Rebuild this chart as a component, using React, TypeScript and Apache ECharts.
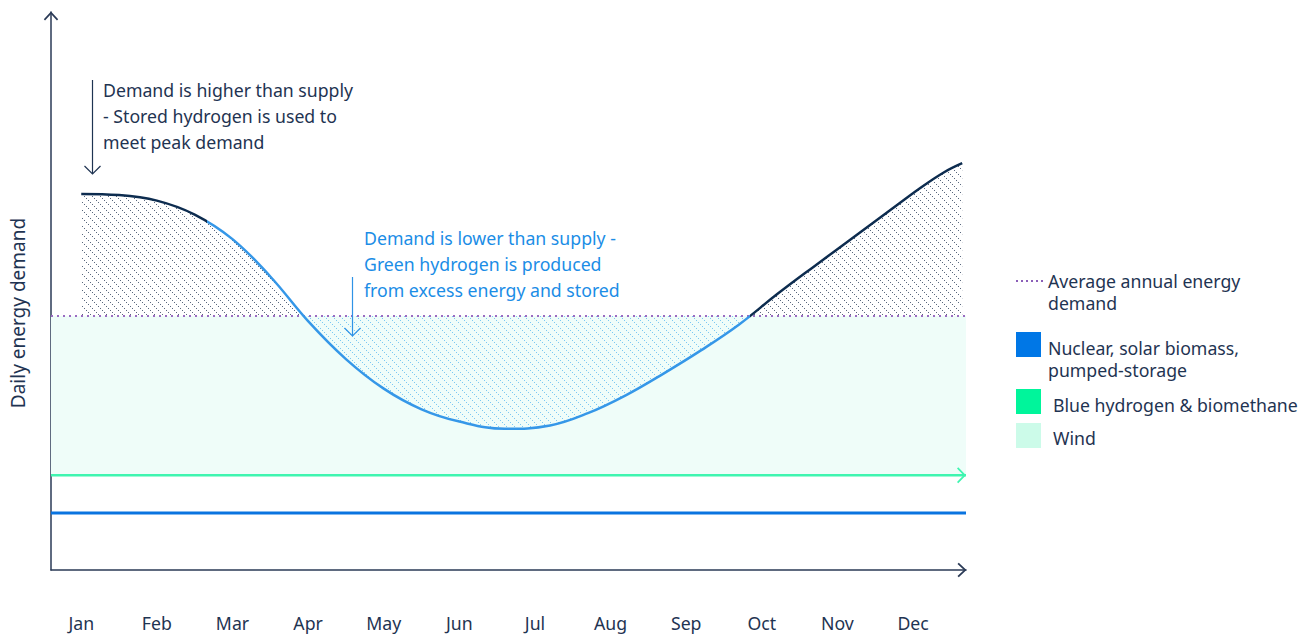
import React, { useEffect, useRef } from 'react';
import * as echarts from 'echarts';

const months = ['Jan', 'Feb', 'Mar', 'Apr', 'May', 'Jun', 'Jul', 'Aug', 'Sep', 'Oct', 'Nov', 'Dec'];
const monthTicks = [0, 1, 2, 3, 4, 5, 6, 7, 8, 9, 10, 11];

// demand curve: month position (0 = Jan) and relative daily demand
const demandX = [0, 0.5, 1, 1.5, 2, 2.5, 3, 3.5, 4, 4.5, 5, 5.6, 6.2, 6.7, 7.2, 7.7, 8.2, 8.7, 9.2, 9.7, 10.2, 10.7, 11.1, 11.4, 11.65];
const demandY = [67.4, 67.2, 66.2, 63.7, 59.3, 52.6, 44.6, 37.8, 32.5, 28.8, 26.6, 25.3, 25.9, 28.1, 31.3, 35.2, 39.4, 44.0, 49.4, 54.5, 59.5, 64.5, 68.5, 71.2, 72.9];

const averageDemand = 45.5;
const nuclearLevel = 10.2;
const blueHydrogenLevel = 17.0;
const xStart = -0.4;
const xEnd = 11.7;
const yMax = 100;

// line colour changes (x positions)
const darkLeftEnd = 1.66;
const darkRightStart = 8.84;

const legendLabels = [
  'Average annual energy\ndemand',
  'Nuclear, solar biomass,\npumped-storage',
  'Blue hydrogen & biomethane',
  'Wind',
];

const annotationHigh = 'Demand is higher than supply\n- Stored hydrogen is used to\nmeet peak demand';
const annotationLow = 'Demand is lower than supply -\nGreen hydrogen is produced\nfrom excess energy and stored';

const FONT = '"Noto Sans", sans-serif';
const FS = 17.7;
const DARK = '#0d2c4f';
const TEXT = '#1f3452';
const BLUE = '#3597e8';

function hatch(color: string): HTMLCanvasElement {
  const c = document.createElement('canvas');
  const s = 8;
  c.width = s;
  c.height = s;
  const ctx = c.getContext('2d')!;
  ctx.fillStyle = color;
  for (let i = 0; i < s; i += 2) {
    ctx.fillRect(i, i, 1, 1);
  }
  return c;
}

export default function App() {
  const ref = useRef<HTMLDivElement>(null);

  useEffect(() => {
    const chart = echarts.init(ref.current!, null, { renderer: 'svg' });

    const plotLeft = 51;
    const plotRight = 966;
    const plotTop = 12;
    const plotBottom = 570;
    const avgPx = plotBottom - (averageDemand / yMax) * (plotBottom - plotTop);

    const demandData = demandX.map((x, i) => [x, demandY[i]]);
    const chevronUp = 'path://M0,8.6 L8,0 L16,8.6 L14.6,10 L8,2.8 L1.4,10 Z';
    const chevronRight = 'path://M0,1.4 L1.4,0 L10,9 L1.4,18 L0,16.6 L7.2,9 Z';

    const hiddenAxis = (min: number, max: number) => ({ show: false, min, max });
    const g = (o: any) => ({ z: 100, silent: true, ...o });

    const option: any = {
      animation: false,
      backgroundColor: '#ffffff',
      textStyle: { fontFamily: FONT },
      grid: [
        { left: plotLeft, width: plotRight - plotLeft, top: plotTop, height: plotBottom - plotTop, outerBoundsMode: 'none' },
        { left: plotLeft, width: plotRight - plotLeft, top: plotTop, height: avgPx - plotTop, outerBoundsMode: 'none' },
        { left: plotLeft, width: plotRight - plotLeft, top: avgPx, height: plotBottom - avgPx, outerBoundsMode: 'none' },
      ],
      xAxis: [
        {
          type: 'value',
          gridIndex: 0,
          min: xStart,
          max: xEnd,
          splitLine: { show: false },
          axisTick: { show: false },
          axisLine: {
            show: true,
            onZero: false,
            symbol: ['none', chevronUp],
            symbolSize: [16, 9],
            symbolOffset: [0, -4],
            lineStyle: { color: '#2a3a56', width: 1.5 },
          },
          axisLabel: {
            customValues: monthTicks,
            formatter: (v: number) => months[Math.round(v)] ?? '',
            margin: 44,
            color: TEXT,
            fontSize: FS,
            fontFamily: FONT,
          },
        },
        { type: 'value', gridIndex: 1, ...hiddenAxis(xStart, xEnd) },
        { type: 'value', gridIndex: 2, ...hiddenAxis(xStart, xEnd) },
      ],
      yAxis: [
        {
          type: 'value',
          gridIndex: 0,
          min: 0,
          max: yMax,
          splitLine: { show: false },
          axisTick: { show: false },
          axisLabel: { show: false },
          axisLine: {
            show: true,
            onZero: false,
            symbol: ['none', chevronUp],
            symbolSize: [16, 9],
            symbolOffset: [0, -4],
            lineStyle: { color: '#2a3a56', width: 1.5 },
          },
        },
        { type: 'value', gridIndex: 1, ...hiddenAxis(averageDemand, yMax) },
        { type: 'value', gridIndex: 2, ...hiddenAxis(0, averageDemand) },
      ],
      visualMap: [
        {
          type: 'piecewise',
          show: false,
          dimension: 0,
          seriesIndex: 6,
          pieces: [
            { lte: darkLeftEnd, color: DARK },
            { gt: darkLeftEnd, lte: darkRightStart, color: BLUE },
            { gt: darkRightStart, color: DARK },
          ],
        },
      ],
      series: [
        {
          name: 'Wind',
          type: 'line',
          xAxisIndex: 0,
          yAxisIndex: 0,
          data: [[xStart, blueHydrogenLevel], [xEnd, blueHydrogenLevel]],
          symbol: 'none',
          lineStyle: { opacity: 0 },
          z: 1,
          silent: true,
          markArea: {
            silent: true,
            itemStyle: { color: '#effdf9' },
            data: [[{ xAxis: xStart, yAxis: blueHydrogenLevel }, { xAxis: xEnd, yAxis: averageDemand }]],
          },
        },
        {
          name: 'Excess demand',
          type: 'line',
          xAxisIndex: 1,
          yAxisIndex: 1,
          data: demandData,
          smooth: 0.4,
          symbol: 'none',
          z: 3,
          silent: true,
          lineStyle: { width: 0 },
          areaStyle: { color: { image: hatch('#5a687e'), repeat: 'repeat' }, origin: 'start', opacity: 1 },
        },
        {
          name: 'Excess supply',
          type: 'line',
          xAxisIndex: 2,
          yAxisIndex: 2,
          data: demandData,
          smooth: 0.4,
          symbol: 'none',
          z: 3,
          silent: true,
          lineStyle: { width: 0 },
          areaStyle: { color: { image: hatch('#7cc8f2'), repeat: 'repeat' }, origin: 'end', opacity: 1 },
        },
        {
          name: 'Nuclear, solar biomass, pumped-storage',
          type: 'line',
          data: [[xStart, nuclearLevel], [xEnd, nuclearLevel]],
          symbol: 'none',
          lineStyle: { color: '#0a74e0', width: 3 },
          z: 4,
          silent: true,
        },
        {
          name: 'Blue hydrogen & biomethane',
          type: 'line',
          data: [
            { value: [xStart, blueHydrogenLevel], symbol: 'none' },
            { value: [xEnd, blueHydrogenLevel], symbol: chevronRight, symbolSize: [9, 16], symbolOffset: [-4.5, 0] },
          ],
          showSymbol: true,
          itemStyle: { color: '#3ff5b0' },
          lineStyle: { color: '#3ff5b0', width: 2.5 },
          z: 4,
          silent: true,
        },
        {
          name: 'Average annual energy demand',
          type: 'line',
          data: [[xStart, averageDemand], [xEnd, averageDemand]],
          symbol: 'none',
          lineStyle: { color: '#9a6cc2', width: 2, type: [2, 4] },
          z: 5,
          silent: true,
        },
        {
          name: 'Daily energy demand',
          type: 'line',
          data: demandData,
          smooth: 0.4,
          symbol: 'none',
          lineStyle: { width: 2.5 },
          z: 6,
          silent: true,
        },
      ],
      graphic: [
        g({
          type: 'text',
          x: 18,
          y: 313,
          rotation: Math.PI / 2,
          style: { text: 'Daily energy demand', fill: TEXT, font: `19px ${FONT}`, align: 'center', verticalAlign: 'middle' },
        }),
        g({
          type: 'text',
          x: 103,
          y: 77,
          style: { text: annotationHigh, fill: TEXT, font: `${FS}px ${FONT}`, lineHeight: 26, verticalAlign: 'top' },
        }),
        g({ type: 'line', shape: { x1: 92.5, y1: 80, x2: 92.5, y2: 174 }, style: { stroke: TEXT, lineWidth: 1.2 } }),
        g({ type: 'polyline', shape: { points: [[84.5, 166], [92.5, 174], [100.5, 166]] }, style: { stroke: TEXT, lineWidth: 1.2, fill: 'none' } }),
        g({
          type: 'text',
          x: 364,
          y: 225,
          style: { text: annotationLow, fill: '#1b8de6', font: `${FS}px ${FONT}`, lineHeight: 26, verticalAlign: 'top' },
        }),
        g({ type: 'line', shape: { x1: 352.5, y1: 277, x2: 352.5, y2: 336 }, style: { stroke: '#2f93e6', lineWidth: 1.2 } }),
        g({ type: 'polyline', shape: { points: [[344.5, 328], [352.5, 336], [360.5, 328]] }, style: { stroke: '#2f93e6', lineWidth: 1.2, fill: 'none' } }),
        // legend
        g({ type: 'line', shape: { x1: 1016, y1: 281, x2: 1043, y2: 281 }, style: { stroke: '#8b5fb8', lineWidth: 2, lineDash: [2, 3] } }),
        g({ type: 'text', x: 1048, y: 270, style: { text: legendLabels[0], fill: TEXT, font: `${FS}px ${FONT}`, lineHeight: 22, verticalAlign: 'top' } }),
        g({ type: 'rect', shape: { x: 1016, y: 332, width: 25, height: 25 }, style: { fill: '#0077e6' } }),
        g({ type: 'text', x: 1048, y: 337, style: { text: legendLabels[1], fill: TEXT, font: `${FS}px ${FONT}`, lineHeight: 22, verticalAlign: 'top' } }),
        g({ type: 'rect', shape: { x: 1016, y: 389, width: 25, height: 25 }, style: { fill: '#00f59b' } }),
        g({ type: 'text', x: 1053, y: 405, style: { text: legendLabels[2], fill: TEXT, font: `${FS}px ${FONT}`, verticalAlign: 'middle' } }),
        g({ type: 'rect', shape: { x: 1016, y: 423, width: 25, height: 25 }, style: { fill: '#ccfbe9' } }),
        g({ type: 'text', x: 1053, y: 438, style: { text: legendLabels[3], fill: TEXT, font: `${FS}px ${FONT}`, verticalAlign: 'middle' } }),
      ],
    };

    chart.setOption(option);
    return () => chart.dispose();
  }, []);

  return <div ref={ref} style={{ position: 'fixed', left: 0, top: 0, width: 1310, height: 635 }} />;
}
